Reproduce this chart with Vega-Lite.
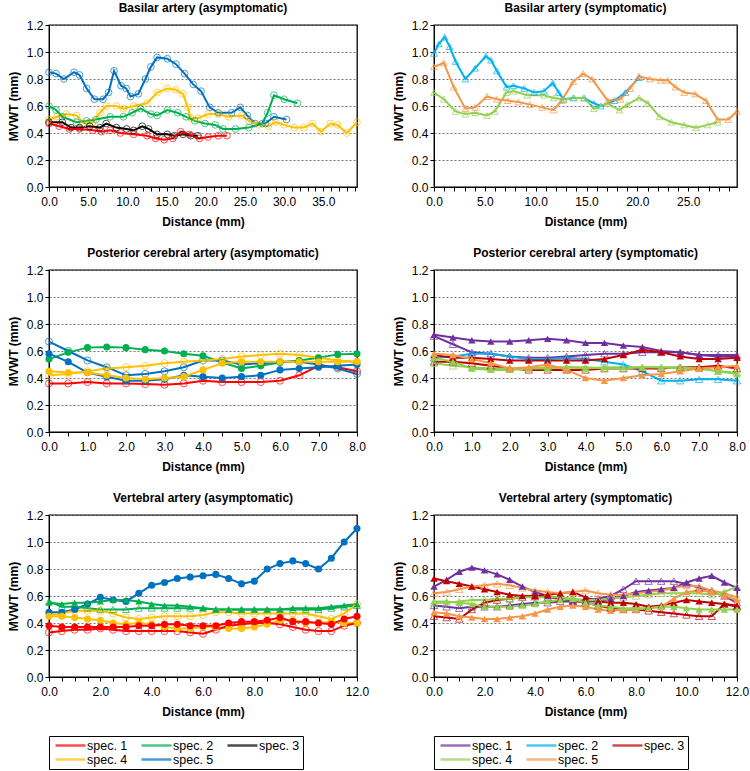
{
"$schema": "https://vega.github.io/schema/vega-lite/v6.json",
"padding": {"left": 6, "top": 1, "right": 0, "bottom": 0},
"background": "white",
"config": {
 "font": "Liberation Sans",
 "view": {"stroke": "#000", "strokeWidth": 1.3},
 "title": {"font": "Liberation Sans", "fontSize": 12, "fontWeight": "bold", "color": "#000", "offset": 4},
 "axis": {"labelFont": "Liberation Sans", "labelFontSize": 12, "labelColor": "#000", "titleFont": "Liberation Sans", "titleFontSize": 12, "titleFontWeight": "bold", "titleColor": "#000", "domainColor": "#000", "tickColor": "#000", "tickSize": 4, "labelFlush": false, "labelOverlap": false, "gridColor": "#777", "gridDash": [2, 2]},
 "axisX": {"grid": false, "labelPadding": 5, "titlePadding": 9},
 "axisY": {"grid": true, "titlePadding": 6},
 "legend": {"orient": "bottom", "direction": "horizontal", "columns": 3, "symbolType": "M-0.6,0H5.4", "symbolSize": 100, "symbolStrokeWidth": 2.5, "symbolOffset": 0, "labelOffset": 22, "labelFont": "Liberation Sans", "labelFontSize": 12.5, "labelColor": "#000", "strokeColor": "#000", "padding": 3, "columnPadding": 8, "rowPadding": 1, "offset": 18}
},
"datasets": {
 "ba": [
  {"s":5,"f":0,"x":0,"y":0.85},{"s":5,"f":0,"x":0.9,"y":0.84},{"s":5,"f":0,"x":1.9,"y":0.80},{"s":5,"f":0,"x":3.2,"y":0.85},{"s":5,"f":0,"x":3.9,"y":0.83},{"s":5,"f":0,"x":4.8,"y":0.73},{"s":5,"f":0,"x":5.8,"y":0.65},{"s":5,"f":0,"x":6.9,"y":0.65},{"s":5,"f":0,"x":7.6,"y":0.70},{"s":5,"f":0,"x":8.3,"y":0.86},{"s":5,"f":0,"x":9.2,"y":0.75},{"s":5,"f":0,"x":9.85,"y":0.73},{"s":5,"f":0,"x":10.4,"y":0.67},{"s":5,"f":0,"x":11.4,"y":0.69},{"s":5,"f":0,"x":12.3,"y":0.80},{"s":5,"f":0,"x":13,"y":0.89},{"s":5,"f":0,"x":13.8,"y":0.96},{"s":5,"f":0,"x":15.1,"y":0.95},{"s":5,"f":0,"x":16.2,"y":0.91},{"s":5,"f":0,"x":17.3,"y":0.84},{"s":5,"f":0,"x":18.4,"y":0.76},{"s":5,"f":0,"x":19.4,"y":0.71},{"s":5,"f":0,"x":20.5,"y":0.59},{"s":5,"f":0,"x":21.6,"y":0.55},{"s":5,"f":0,"x":23.3,"y":0.55},{"s":5,"f":0,"x":24.4,"y":0.59},{"s":5,"f":0,"x":25.3,"y":0.53},{"s":5,"f":0,"x":26.3,"y":0.47},{"s":5,"f":0,"x":27.6,"y":0.47},{"s":5,"f":0,"x":28.7,"y":0.52},{"s":5,"f":0,"x":30.3,"y":0.50},
  {"s":4,"f":0,"x":0,"y":0.50},{"s":4,"f":0,"x":1,"y":0.52},{"s":4,"f":0,"x":2.2,"y":0.54},{"s":4,"f":0,"x":3.5,"y":0.53},{"s":4,"f":0,"x":4.5,"y":0.47},{"s":4,"f":0,"x":5.6,"y":0.48},{"s":4,"f":0,"x":6.5,"y":0.55},{"s":4,"f":0,"x":7.3,"y":0.60},{"s":4,"f":0,"x":8.6,"y":0.60},{"s":4,"f":0,"x":9.5,"y":0.58},{"s":4,"f":0,"x":10.8,"y":0.60},{"s":4,"f":0,"x":12.5,"y":0.62},{"s":4,"f":0,"x":13.8,"y":0.70},{"s":4,"f":0,"x":15.1,"y":0.73},{"s":4,"f":0,"x":16.2,"y":0.72},{"s":4,"f":0,"x":17.1,"y":0.69},{"s":4,"f":0,"x":17.7,"y":0.59},{"s":4,"f":0,"x":18.1,"y":0.51},{"s":4,"f":0,"x":19,"y":0.51},{"s":4,"f":0,"x":20.3,"y":0.54},{"s":4,"f":0,"x":21.6,"y":0.54},{"s":4,"f":0,"x":22.9,"y":0.52},{"s":4,"f":0,"x":24.6,"y":0.53},{"s":4,"f":0,"x":25.5,"y":0.49},{"s":4,"f":0,"x":26.8,"y":0.46},{"s":4,"f":0,"x":28,"y":0.45},{"s":4,"f":0,"x":28.9,"y":0.48},{"s":4,"f":0,"x":30,"y":0.46},{"s":4,"f":0,"x":31.3,"y":0.44},{"s":4,"f":0,"x":32.5,"y":0.44},{"s":4,"f":0,"x":33.6,"y":0.47},{"s":4,"f":0,"x":34.7,"y":0.41},{"s":4,"f":0,"x":35.9,"y":0.47},{"s":4,"f":0,"x":36.8,"y":0.46},{"s":4,"f":0,"x":38,"y":0.40},{"s":4,"f":0,"x":39.3,"y":0.48},
  {"s":2,"f":0,"x":0,"y":0.60},{"s":2,"f":0,"x":0.9,"y":0.57},{"s":2,"f":0,"x":1.7,"y":0.52},{"s":2,"f":0,"x":3.5,"y":0.48},{"s":2,"f":0,"x":4.8,"y":0.49},{"s":2,"f":0,"x":6,"y":0.50},{"s":2,"f":0,"x":7.8,"y":0.52},{"s":2,"f":0,"x":9.5,"y":0.52},{"s":2,"f":0,"x":10.6,"y":0.55},{"s":2,"f":0,"x":11.7,"y":0.58},{"s":2,"f":0,"x":13,"y":0.54},{"s":2,"f":0,"x":13.8,"y":0.53},{"s":2,"f":0,"x":15.1,"y":0.57},{"s":2,"f":0,"x":16.4,"y":0.55},{"s":2,"f":0,"x":17.5,"y":0.52},{"s":2,"f":0,"x":18.6,"y":0.49},{"s":2,"f":0,"x":19.9,"y":0.47},{"s":2,"f":0,"x":21.2,"y":0.46},{"s":2,"f":0,"x":22.2,"y":0.43},{"s":2,"f":0,"x":23.8,"y":0.43},{"s":2,"f":0,"x":25.5,"y":0.44},{"s":2,"f":0,"x":27.2,"y":0.47},{"s":2,"f":0,"x":27.9,"y":0.55},{"s":2,"f":0,"x":28.7,"y":0.68},{"s":2,"f":0,"x":30,"y":0.65},{"s":2,"f":0,"x":31.7,"y":0.62},
  {"s":3,"f":0,"x":0,"y":0.48},{"s":3,"f":0,"x":1.7,"y":0.48},{"s":3,"f":0,"x":2.8,"y":0.44},{"s":3,"f":0,"x":3.9,"y":0.44},{"s":3,"f":0,"x":5.2,"y":0.45},{"s":3,"f":0,"x":6.5,"y":0.44},{"s":3,"f":0,"x":7.3,"y":0.47},{"s":3,"f":0,"x":8.6,"y":0.44},{"s":3,"f":0,"x":9.9,"y":0.43},{"s":3,"f":0,"x":10.8,"y":0.42},{"s":3,"f":0,"x":11.9,"y":0.45},{"s":3,"f":0,"x":12.7,"y":0.43},{"s":3,"f":0,"x":13.8,"y":0.39},{"s":3,"f":0,"x":15.1,"y":0.39},{"s":3,"f":0,"x":16,"y":0.38},{"s":3,"f":0,"x":17.1,"y":0.39},{"s":3,"f":0,"x":18.1,"y":0.38},{"s":3,"f":0,"x":19,"y":0.38},
  {"s":1,"f":0,"x":0,"y":0.47},{"s":1,"f":0,"x":1.3,"y":0.45},{"s":1,"f":0,"x":2.6,"y":0.43},{"s":1,"f":0,"x":3.9,"y":0.43},{"s":1,"f":0,"x":5.6,"y":0.42},{"s":1,"f":0,"x":6.7,"y":0.41},{"s":1,"f":0,"x":7.8,"y":0.42},{"s":1,"f":0,"x":9.1,"y":0.40},{"s":1,"f":0,"x":10.8,"y":0.39},{"s":1,"f":0,"x":12.5,"y":0.38},{"s":1,"f":0,"x":13.6,"y":0.36},{"s":1,"f":0,"x":14.7,"y":0.35},{"s":1,"f":0,"x":15.8,"y":0.36},{"s":1,"f":0,"x":16.8,"y":0.41},{"s":1,"f":0,"x":17.9,"y":0.39},{"s":1,"f":0,"x":19.2,"y":0.36},{"s":1,"f":0,"x":20.3,"y":0.37},{"s":1,"f":0,"x":21.6,"y":0.38},{"s":1,"f":0,"x":22.7,"y":0.38}
 ],
 "bs": [
  {"s":2,"f":0,"x":0,"y":0.99},{"s":2,"f":0,"x":0.48,"y":1.06},{"s":2,"f":0,"x":1.06,"y":1.11},{"s":2,"f":0,"x":1.54,"y":1.04},{"s":2,"f":0,"x":2.12,"y":0.93},{"s":2,"f":0,"x":3.09,"y":0.80},{"s":2,"f":0,"x":4.05,"y":0.88},{"s":2,"f":0,"x":5.11,"y":0.97},{"s":2,"f":0,"x":5.6,"y":0.94},{"s":2,"f":0,"x":6.18,"y":0.86},{"s":2,"f":0,"x":7.14,"y":0.74},{"s":2,"f":0,"x":7.82,"y":0.75},{"s":2,"f":0,"x":8.88,"y":0.73},{"s":2,"f":0,"x":9.84,"y":0.70},{"s":2,"f":0,"x":10.81,"y":0.71},{"s":2,"f":0,"x":11.68,"y":0.77},{"s":2,"f":0,"x":12.26,"y":0.70},{"s":2,"f":0,"x":12.74,"y":0.65},{"s":2,"f":0,"x":13.7,"y":0.66},{"s":2,"f":0,"x":14.76,"y":0.66},{"s":2,"f":0,"x":15.73,"y":0.62},{"s":2,"f":0,"x":16.4,"y":0.60},{"s":2,"f":0,"x":17.76,"y":0.64},{"s":2,"f":0,"x":18.82,"y":0.70},{"s":2,"f":0,"x":20.17,"y":0.81},
  {"s":4,"f":0,"x":0,"y":0.70},{"s":4,"f":0,"x":0.97,"y":0.65},{"s":4,"f":0,"x":2.12,"y":0.56},{"s":4,"f":0,"x":3.09,"y":0.54},{"s":4,"f":0,"x":4.05,"y":0.55},{"s":4,"f":0,"x":5.21,"y":0.53},{"s":4,"f":0,"x":5.98,"y":0.56},{"s":4,"f":0,"x":7.14,"y":0.70},{"s":4,"f":0,"x":7.82,"y":0.71},{"s":4,"f":0,"x":9.17,"y":0.68},{"s":4,"f":0,"x":10.81,"y":0.68},{"s":4,"f":0,"x":11.77,"y":0.66},{"s":4,"f":0,"x":12.74,"y":0.65},{"s":4,"f":0,"x":13.8,"y":0.66},{"s":4,"f":0,"x":14.76,"y":0.66},{"s":4,"f":0,"x":15.73,"y":0.58},{"s":4,"f":0,"x":17.08,"y":0.62},{"s":4,"f":0,"x":18.24,"y":0.57},{"s":4,"f":0,"x":19.01,"y":0.61},{"s":4,"f":0,"x":20.17,"y":0.66},{"s":4,"f":0,"x":21.04,"y":0.62},{"s":4,"f":0,"x":22.2,"y":0.52},{"s":4,"f":0,"x":23.35,"y":0.48},{"s":4,"f":0,"x":24.61,"y":0.46},{"s":4,"f":0,"x":25.77,"y":0.44},{"s":4,"f":0,"x":26.92,"y":0.46},{"s":4,"f":0,"x":27.89,"y":0.48},
  {"s":5,"f":0,"x":0,"y":0.89},{"s":5,"f":0,"x":0.97,"y":0.92},{"s":5,"f":0,"x":1.93,"y":0.74},{"s":5,"f":0,"x":3.09,"y":0.58},{"s":5,"f":0,"x":4.05,"y":0.59},{"s":5,"f":0,"x":5.21,"y":0.67},{"s":5,"f":0,"x":6.18,"y":0.65},{"s":5,"f":0,"x":7.24,"y":0.64},{"s":5,"f":0,"x":8.3,"y":0.63},{"s":5,"f":0,"x":9.46,"y":0.61},{"s":5,"f":0,"x":10.62,"y":0.59},{"s":5,"f":0,"x":11.77,"y":0.57},{"s":5,"f":0,"x":12.55,"y":0.64},{"s":5,"f":0,"x":13.7,"y":0.78},{"s":5,"f":0,"x":14.67,"y":0.84},{"s":5,"f":0,"x":15.54,"y":0.80},{"s":5,"f":0,"x":17.08,"y":0.64},{"s":5,"f":0,"x":18.34,"y":0.65},{"s":5,"f":0,"x":19.3,"y":0.73},{"s":5,"f":0,"x":20.17,"y":0.82},{"s":5,"f":0,"x":21.23,"y":0.80},{"s":5,"f":0,"x":22.29,"y":0.79},{"s":5,"f":0,"x":22.97,"y":0.79},{"s":5,"f":0,"x":23.74,"y":0.74},{"s":5,"f":0,"x":24.61,"y":0.70},{"s":5,"f":0,"x":25.67,"y":0.69},{"s":5,"f":0,"x":26.73,"y":0.64},{"s":5,"f":0,"x":27.89,"y":0.50},{"s":5,"f":0,"x":28.95,"y":0.50},{"s":5,"f":0,"x":29.8,"y":0.56}
 ],
 "pa": [
  {"s":1,"f":0,"x":0,"y":0.36},{"s":1,"f":0,"x":0.5,"y":0.36},{"s":1,"f":0,"x":1,"y":0.37},{"s":1,"f":0,"x":1.5,"y":0.36},{"s":1,"f":0,"x":2,"y":0.36},{"s":1,"f":0,"x":2.5,"y":0.355},{"s":1,"f":0,"x":3,"y":0.35},{"s":1,"f":0,"x":3.5,"y":0.36},{"s":1,"f":0,"x":4,"y":0.38},{"s":1,"f":0,"x":4.5,"y":0.37},{"s":1,"f":0,"x":5,"y":0.37},{"s":1,"f":0,"x":5.5,"y":0.37},{"s":1,"f":0,"x":6,"y":0.38},{"s":1,"f":0,"x":6.5,"y":0.42},{"s":1,"f":0,"x":7,"y":0.49},{"s":1,"f":0,"x":7.5,"y":0.48},{"s":1,"f":0,"x":8,"y":0.45},
  {"s":2,"f":1,"x":0,"y":0.54},{"s":2,"f":1,"x":0.5,"y":0.59},{"s":2,"f":1,"x":1,"y":0.625},{"s":2,"f":1,"x":1.5,"y":0.63},{"s":2,"f":1,"x":2,"y":0.625},{"s":2,"f":1,"x":2.5,"y":0.61},{"s":2,"f":1,"x":3,"y":0.60},{"s":2,"f":1,"x":3.5,"y":0.58},{"s":2,"f":1,"x":4,"y":0.565},{"s":2,"f":1,"x":4.5,"y":0.515},{"s":2,"f":1,"x":5,"y":0.47},{"s":2,"f":1,"x":5.5,"y":0.49},{"s":2,"f":1,"x":6,"y":0.515},{"s":2,"f":1,"x":6.5,"y":0.53},{"s":2,"f":1,"x":7,"y":0.55},{"s":2,"f":1,"x":7.5,"y":0.575},{"s":2,"f":1,"x":8,"y":0.58},
  {"s":5,"f":0,"x":0,"y":0.67},{"s":5,"f":0,"x":0.5,"y":0.60},{"s":5,"f":0,"x":1,"y":0.53},{"s":5,"f":0,"x":1.5,"y":0.48},{"s":5,"f":0,"x":2,"y":0.42},{"s":5,"f":0,"x":2.5,"y":0.43},{"s":5,"f":0,"x":3,"y":0.45},{"s":5,"f":0,"x":3.5,"y":0.48},{"s":5,"f":0,"x":4,"y":0.53},{"s":5,"f":0,"x":4.5,"y":0.53},{"s":5,"f":0,"x":5,"y":0.50},{"s":5,"f":0,"x":5.5,"y":0.51},{"s":5,"f":0,"x":6,"y":0.52},{"s":5,"f":0,"x":6.5,"y":0.52},{"s":5,"f":0,"x":7,"y":0.50},{"s":5,"f":0,"x":7.5,"y":0.47},{"s":5,"f":0,"x":8,"y":0.43},
  {"s":5,"f":1,"x":0,"y":0.58},{"s":5,"f":1,"x":0.5,"y":0.52},{"s":5,"f":1,"x":1,"y":0.44},{"s":5,"f":1,"x":1.5,"y":0.41},{"s":5,"f":1,"x":2,"y":0.38},{"s":5,"f":1,"x":2.5,"y":0.38},{"s":5,"f":1,"x":3,"y":0.39},{"s":5,"f":1,"x":3.5,"y":0.42},{"s":5,"f":1,"x":4,"y":0.41},{"s":5,"f":1,"x":4.5,"y":0.40},{"s":5,"f":1,"x":5,"y":0.41},{"s":5,"f":1,"x":5.5,"y":0.42},{"s":5,"f":1,"x":6,"y":0.46},{"s":5,"f":1,"x":6.5,"y":0.47},{"s":5,"f":1,"x":7,"y":0.48},{"s":5,"f":1,"x":7.5,"y":0.49},{"s":5,"f":1,"x":8,"y":0.50},
  {"s":4,"f":0,"x":0,"y":0.42},{"s":4,"f":0,"x":0.5,"y":0.43},{"s":4,"f":0,"x":1,"y":0.45},{"s":4,"f":0,"x":1.5,"y":0.47},{"s":4,"f":0,"x":2,"y":0.48},{"s":4,"f":0,"x":2.5,"y":0.49},{"s":4,"f":0,"x":3,"y":0.51},{"s":4,"f":0,"x":3.5,"y":0.52},{"s":4,"f":0,"x":4,"y":0.53},{"s":4,"f":0,"x":4.5,"y":0.54},{"s":4,"f":0,"x":5,"y":0.56},{"s":4,"f":0,"x":5.5,"y":0.57},{"s":4,"f":0,"x":6,"y":0.58},{"s":4,"f":0,"x":6.5,"y":0.57},{"s":4,"f":0,"x":7,"y":0.55},{"s":4,"f":0,"x":7.5,"y":0.53},{"s":4,"f":0,"x":8,"y":0.52},
  {"s":4,"f":1,"x":0,"y":0.45},{"s":4,"f":1,"x":0.5,"y":0.44},{"s":4,"f":1,"x":1,"y":0.44},{"s":4,"f":1,"x":1.5,"y":0.42},{"s":4,"f":1,"x":2,"y":0.40},{"s":4,"f":1,"x":2.5,"y":0.39},{"s":4,"f":1,"x":3,"y":0.40},{"s":4,"f":1,"x":3.5,"y":0.41},{"s":4,"f":1,"x":4,"y":0.46},{"s":4,"f":1,"x":4.5,"y":0.51},{"s":4,"f":1,"x":5,"y":0.52},{"s":4,"f":1,"x":5.5,"y":0.52},{"s":4,"f":1,"x":6,"y":0.52},{"s":4,"f":1,"x":6.5,"y":0.52},{"s":4,"f":1,"x":7,"y":0.52},{"s":4,"f":1,"x":7.5,"y":0.52},{"s":4,"f":1,"x":8,"y":0.52}
 ],
 "ps": [
  {"s":1,"f":1,"x":0,"y":0.72},{"s":1,"f":1,"x":0.5,"y":0.70},{"s":1,"f":1,"x":1,"y":0.68},{"s":1,"f":1,"x":1.5,"y":0.67},{"s":1,"f":1,"x":2,"y":0.67},{"s":1,"f":1,"x":2.5,"y":0.68},{"s":1,"f":1,"x":3,"y":0.69},{"s":1,"f":1,"x":3.5,"y":0.68},{"s":1,"f":1,"x":4,"y":0.66},{"s":1,"f":1,"x":4.5,"y":0.66},{"s":1,"f":1,"x":5,"y":0.64},{"s":1,"f":1,"x":5.5,"y":0.63},{"s":1,"f":1,"x":6,"y":0.60},{"s":1,"f":1,"x":6.5,"y":0.59},{"s":1,"f":1,"x":7,"y":0.57},{"s":1,"f":1,"x":7.5,"y":0.56},{"s":1,"f":1,"x":8,"y":0.56},
  {"s":1,"f":0,"x":0,"y":0.71},{"s":1,"f":0,"x":0.5,"y":0.65},{"s":1,"f":0,"x":1,"y":0.59},{"s":1,"f":0,"x":1.5,"y":0.58},{"s":1,"f":0,"x":2,"y":0.56},{"s":1,"f":0,"x":2.5,"y":0.55},{"s":1,"f":0,"x":3,"y":0.55},{"s":1,"f":0,"x":3.5,"y":0.56},{"s":1,"f":0,"x":4,"y":0.57},{"s":1,"f":0,"x":4.5,"y":0.58},{"s":1,"f":0,"x":5,"y":0.58},{"s":1,"f":0,"x":5.5,"y":0.59},{"s":1,"f":0,"x":6,"y":0.59},{"s":1,"f":0,"x":6.5,"y":0.59},{"s":1,"f":0,"x":7,"y":0.57},{"s":1,"f":0,"x":7.5,"y":0.57},{"s":1,"f":0,"x":8,"y":0.57},
  {"s":2,"f":0,"x":0,"y":0.55},{"s":2,"f":0,"x":0.5,"y":0.56},{"s":2,"f":0,"x":1,"y":0.58},{"s":2,"f":0,"x":1.5,"y":0.58},{"s":2,"f":0,"x":2,"y":0.56},{"s":2,"f":0,"x":2.5,"y":0.54},{"s":2,"f":0,"x":3,"y":0.54},{"s":2,"f":0,"x":3.5,"y":0.55},{"s":2,"f":0,"x":4,"y":0.54},{"s":2,"f":0,"x":4.5,"y":0.52},{"s":2,"f":0,"x":5,"y":0.50},{"s":2,"f":0,"x":5.5,"y":0.45},{"s":2,"f":0,"x":6,"y":0.38},{"s":2,"f":0,"x":6.5,"y":0.38},{"s":2,"f":0,"x":7,"y":0.39},{"s":2,"f":0,"x":7.5,"y":0.39},{"s":2,"f":0,"x":8,"y":0.38},
  {"s":3,"f":1,"x":0,"y":0.57},{"s":3,"f":1,"x":0.5,"y":0.55},{"s":3,"f":1,"x":1,"y":0.55},{"s":3,"f":1,"x":1.5,"y":0.54},{"s":3,"f":1,"x":2,"y":0.53},{"s":3,"f":1,"x":2.5,"y":0.53},{"s":3,"f":1,"x":3,"y":0.53},{"s":3,"f":1,"x":3.5,"y":0.53},{"s":3,"f":1,"x":4,"y":0.53},{"s":3,"f":1,"x":4.5,"y":0.54},{"s":3,"f":1,"x":5,"y":0.57},{"s":3,"f":1,"x":5.5,"y":0.61},{"s":3,"f":1,"x":6,"y":0.59},{"s":3,"f":1,"x":6.5,"y":0.56},{"s":3,"f":1,"x":7,"y":0.54},{"s":3,"f":1,"x":7.5,"y":0.54},{"s":3,"f":1,"x":8,"y":0.55},
  {"s":3,"f":0,"x":0,"y":0.52},{"s":3,"f":0,"x":0.5,"y":0.52},{"s":3,"f":0,"x":1,"y":0.51},{"s":3,"f":0,"x":1.5,"y":0.49},{"s":3,"f":0,"x":2,"y":0.47},{"s":3,"f":0,"x":2.5,"y":0.46},{"s":3,"f":0,"x":3,"y":0.46},{"s":3,"f":0,"x":3.5,"y":0.46},{"s":3,"f":0,"x":4,"y":0.46},{"s":3,"f":0,"x":4.5,"y":0.47},{"s":3,"f":0,"x":5,"y":0.47},{"s":3,"f":0,"x":5.5,"y":0.47},{"s":3,"f":0,"x":6,"y":0.47},{"s":3,"f":0,"x":6.5,"y":0.48},{"s":3,"f":0,"x":7,"y":0.48},{"s":3,"f":0,"x":7.5,"y":0.49},{"s":3,"f":0,"x":8,"y":0.47},
  {"s":4,"f":1,"x":0,"y":0.55},{"s":4,"f":1,"x":0.5,"y":0.52},{"s":4,"f":1,"x":1,"y":0.47},{"s":4,"f":1,"x":1.5,"y":0.46},{"s":4,"f":1,"x":2,"y":0.46},{"s":4,"f":1,"x":2.5,"y":0.47},{"s":4,"f":1,"x":3,"y":0.47},{"s":4,"f":1,"x":3.5,"y":0.48},{"s":4,"f":1,"x":4,"y":0.47},{"s":4,"f":1,"x":4.5,"y":0.48},{"s":4,"f":1,"x":5,"y":0.48},{"s":4,"f":1,"x":5.5,"y":0.48},{"s":4,"f":1,"x":6,"y":0.48},{"s":4,"f":1,"x":6.5,"y":0.48},{"s":4,"f":1,"x":7,"y":0.47},{"s":4,"f":1,"x":7.5,"y":0.45},{"s":4,"f":1,"x":8,"y":0.43},
  {"s":4,"f":0,"x":0,"y":0.51},{"s":4,"f":0,"x":0.5,"y":0.49},{"s":4,"f":0,"x":1,"y":0.48},{"s":4,"f":0,"x":1.5,"y":0.47},{"s":4,"f":0,"x":2,"y":0.47},{"s":4,"f":0,"x":2.5,"y":0.47},{"s":4,"f":0,"x":3,"y":0.48},{"s":4,"f":0,"x":3.5,"y":0.48},{"s":4,"f":0,"x":4,"y":0.48},{"s":4,"f":0,"x":4.5,"y":0.47},{"s":4,"f":0,"x":5,"y":0.47},{"s":4,"f":0,"x":5.5,"y":0.48},{"s":4,"f":0,"x":6,"y":0.48},{"s":4,"f":0,"x":6.5,"y":0.47},{"s":4,"f":0,"x":7,"y":0.47},{"s":4,"f":0,"x":7.5,"y":0.45},{"s":4,"f":0,"x":8,"y":0.44},
  {"s":5,"f":1,"x":0,"y":0.58},{"s":5,"f":1,"x":0.5,"y":0.57},{"s":5,"f":1,"x":1,"y":0.54},{"s":5,"f":1,"x":1.5,"y":0.51},{"s":5,"f":1,"x":2,"y":0.47},{"s":5,"f":1,"x":2.5,"y":0.48},{"s":5,"f":1,"x":3,"y":0.50},{"s":5,"f":1,"x":3.5,"y":0.46},{"s":5,"f":1,"x":4,"y":0.40},{"s":5,"f":1,"x":4.5,"y":0.38},{"s":5,"f":1,"x":5,"y":0.40},{"s":5,"f":1,"x":5.5,"y":0.42},{"s":5,"f":1,"x":6,"y":0.43},{"s":5,"f":1,"x":6.5,"y":0.45},{"s":5,"f":1,"x":7,"y":0.47},{"s":5,"f":1,"x":7.5,"y":0.48},{"s":5,"f":1,"x":8,"y":0.49}
 ],
 "va": [
  {"s":5,"f":1,"x":0,"y":0.48},{"s":5,"f":1,"x":0.5,"y":0.48},{"s":5,"f":1,"x":1,"y":0.50},{"s":5,"f":1,"x":1.5,"y":0.54},{"s":5,"f":1,"x":2,"y":0.59},{"s":5,"f":1,"x":2.5,"y":0.57},{"s":5,"f":1,"x":3,"y":0.56},{"s":5,"f":1,"x":3.5,"y":0.62},{"s":5,"f":1,"x":4,"y":0.68},{"s":5,"f":1,"x":4.5,"y":0.70},{"s":5,"f":1,"x":5,"y":0.73},{"s":5,"f":1,"x":5.5,"y":0.74},{"s":5,"f":1,"x":6,"y":0.75},{"s":5,"f":1,"x":6.5,"y":0.76},{"s":5,"f":1,"x":7,"y":0.73},{"s":5,"f":1,"x":7.5,"y":0.69},{"s":5,"f":1,"x":8,"y":0.71},{"s":5,"f":1,"x":8.5,"y":0.80},{"s":5,"f":1,"x":9,"y":0.84},{"s":5,"f":1,"x":9.5,"y":0.86},{"s":5,"f":1,"x":10,"y":0.84},{"s":5,"f":1,"x":10.5,"y":0.80},{"s":5,"f":1,"x":11,"y":0.88},{"s":5,"f":1,"x":11.5,"y":1.00},{"s":5,"f":1,"x":12,"y":1.10},
  {"s":2,"f":1,"x":0,"y":0.55},{"s":2,"f":1,"x":0.5,"y":0.54},{"s":2,"f":1,"x":1,"y":0.55},{"s":2,"f":1,"x":1.5,"y":0.55},{"s":2,"f":1,"x":2,"y":0.56},{"s":2,"f":1,"x":2.5,"y":0.57},{"s":2,"f":1,"x":3,"y":0.57},{"s":2,"f":1,"x":3.5,"y":0.56},{"s":2,"f":1,"x":4,"y":0.54},{"s":2,"f":1,"x":4.5,"y":0.53},{"s":2,"f":1,"x":5,"y":0.53},{"s":2,"f":1,"x":5.5,"y":0.52},{"s":2,"f":1,"x":6,"y":0.51},{"s":2,"f":1,"x":6.5,"y":0.50},{"s":2,"f":1,"x":7,"y":0.50},{"s":2,"f":1,"x":7.5,"y":0.50},{"s":2,"f":1,"x":8,"y":0.50},{"s":2,"f":1,"x":8.5,"y":0.50},{"s":2,"f":1,"x":9,"y":0.50},{"s":2,"f":1,"x":9.5,"y":0.51},{"s":2,"f":1,"x":10,"y":0.51},{"s":2,"f":1,"x":10.5,"y":0.51},{"s":2,"f":1,"x":11,"y":0.52},{"s":2,"f":1,"x":11.5,"y":0.53},{"s":2,"f":1,"x":12,"y":0.54},
  {"s":2,"f":0,"x":0,"y":0.56},{"s":2,"f":0,"x":0.5,"y":0.52},{"s":2,"f":0,"x":1,"y":0.52},{"s":2,"f":0,"x":1.5,"y":0.51},{"s":2,"f":0,"x":2,"y":0.50},{"s":2,"f":0,"x":2.5,"y":0.50},{"s":2,"f":0,"x":3,"y":0.50},{"s":2,"f":0,"x":3.5,"y":0.51},{"s":2,"f":0,"x":4,"y":0.51},{"s":2,"f":0,"x":4.5,"y":0.51},{"s":2,"f":0,"x":5,"y":0.51},{"s":2,"f":0,"x":5.5,"y":0.51},{"s":2,"f":0,"x":6,"y":0.51},{"s":2,"f":0,"x":6.5,"y":0.50},{"s":2,"f":0,"x":7,"y":0.50},{"s":2,"f":0,"x":7.5,"y":0.50},{"s":2,"f":0,"x":8,"y":0.50},{"s":2,"f":0,"x":8.5,"y":0.50},{"s":2,"f":0,"x":9,"y":0.50},{"s":2,"f":0,"x":9.5,"y":0.50},{"s":2,"f":0,"x":10,"y":0.50},{"s":2,"f":0,"x":10.5,"y":0.50},{"s":2,"f":0,"x":11,"y":0.51},{"s":2,"f":0,"x":11.5,"y":0.52},{"s":2,"f":0,"x":12,"y":0.53},
  {"s":4,"f":0,"x":0,"y":0.46},{"s":4,"f":0,"x":0.5,"y":0.47},{"s":4,"f":0,"x":1,"y":0.49},{"s":4,"f":0,"x":1.5,"y":0.49},{"s":4,"f":0,"x":2,"y":0.49},{"s":4,"f":0,"x":2.5,"y":0.47},{"s":4,"f":0,"x":3,"y":0.44},{"s":4,"f":0,"x":3.5,"y":0.43},{"s":4,"f":0,"x":4,"y":0.44},{"s":4,"f":0,"x":4.5,"y":0.45},{"s":4,"f":0,"x":5,"y":0.45},{"s":4,"f":0,"x":5.5,"y":0.45},{"s":4,"f":0,"x":6,"y":0.46},{"s":4,"f":0,"x":6.5,"y":0.48},{"s":4,"f":0,"x":7,"y":0.48},{"s":4,"f":0,"x":7.5,"y":0.47},{"s":4,"f":0,"x":8,"y":0.47},{"s":4,"f":0,"x":8.5,"y":0.47},{"s":4,"f":0,"x":9,"y":0.47},{"s":4,"f":0,"x":9.5,"y":0.47},{"s":4,"f":0,"x":10,"y":0.47},{"s":4,"f":0,"x":10.5,"y":0.45},{"s":4,"f":0,"x":11,"y":0.43},{"s":4,"f":0,"x":11.5,"y":0.47},{"s":4,"f":0,"x":12,"y":0.54},
  {"s":4,"f":1,"x":0,"y":0.45},{"s":4,"f":1,"x":0.5,"y":0.45},{"s":4,"f":1,"x":1,"y":0.44},{"s":4,"f":1,"x":1.5,"y":0.43},{"s":4,"f":1,"x":2,"y":0.42},{"s":4,"f":1,"x":2.5,"y":0.40},{"s":4,"f":1,"x":3,"y":0.39},{"s":4,"f":1,"x":3.5,"y":0.40},{"s":4,"f":1,"x":4,"y":0.39},{"s":4,"f":1,"x":4.5,"y":0.37},{"s":4,"f":1,"x":5,"y":0.36},{"s":4,"f":1,"x":5.5,"y":0.36},{"s":4,"f":1,"x":6,"y":0.37},{"s":4,"f":1,"x":6.5,"y":0.37},{"s":4,"f":1,"x":7,"y":0.36},{"s":4,"f":1,"x":7.5,"y":0.36},{"s":4,"f":1,"x":8,"y":0.37},{"s":4,"f":1,"x":8.5,"y":0.39},{"s":4,"f":1,"x":9,"y":0.42},{"s":4,"f":1,"x":9.5,"y":0.42},{"s":4,"f":1,"x":10,"y":0.40},{"s":4,"f":1,"x":10.5,"y":0.40},{"s":4,"f":1,"x":11,"y":0.41},{"s":4,"f":1,"x":11.5,"y":0.40},{"s":4,"f":1,"x":12,"y":0.40},
  {"s":1,"f":1,"x":0,"y":0.38},{"s":1,"f":1,"x":0.5,"y":0.37},{"s":1,"f":1,"x":1,"y":0.37},{"s":1,"f":1,"x":1.5,"y":0.37},{"s":1,"f":1,"x":2,"y":0.37},{"s":1,"f":1,"x":2.5,"y":0.37},{"s":1,"f":1,"x":3,"y":0.37},{"s":1,"f":1,"x":3.5,"y":0.38},{"s":1,"f":1,"x":4,"y":0.38},{"s":1,"f":1,"x":4.5,"y":0.39},{"s":1,"f":1,"x":5,"y":0.39},{"s":1,"f":1,"x":5.5,"y":0.38},{"s":1,"f":1,"x":6,"y":0.38},{"s":1,"f":1,"x":6.5,"y":0.38},{"s":1,"f":1,"x":7,"y":0.40},{"s":1,"f":1,"x":7.5,"y":0.41},{"s":1,"f":1,"x":8,"y":0.41},{"s":1,"f":1,"x":8.5,"y":0.42},{"s":1,"f":1,"x":9,"y":0.44},{"s":1,"f":1,"x":9.5,"y":0.41},{"s":1,"f":1,"x":10,"y":0.41},{"s":1,"f":1,"x":10.5,"y":0.40},{"s":1,"f":1,"x":11,"y":0.39},{"s":1,"f":1,"x":11.5,"y":0.43},{"s":1,"f":1,"x":12,"y":0.45},
  {"s":1,"f":0,"x":0,"y":0.33},{"s":1,"f":0,"x":0.5,"y":0.34},{"s":1,"f":0,"x":1,"y":0.35},{"s":1,"f":0,"x":1.5,"y":0.35},{"s":1,"f":0,"x":2,"y":0.36},{"s":1,"f":0,"x":2.5,"y":0.35},{"s":1,"f":0,"x":3,"y":0.34},{"s":1,"f":0,"x":3.5,"y":0.34},{"s":1,"f":0,"x":4,"y":0.34},{"s":1,"f":0,"x":4.5,"y":0.34},{"s":1,"f":0,"x":5,"y":0.34},{"s":1,"f":0,"x":5.5,"y":0.33},{"s":1,"f":0,"x":6,"y":0.32},{"s":1,"f":0,"x":6.5,"y":0.35},{"s":1,"f":0,"x":7,"y":0.38},{"s":1,"f":0,"x":7.5,"y":0.39},{"s":1,"f":0,"x":8,"y":0.40},{"s":1,"f":0,"x":8.5,"y":0.40},{"s":1,"f":0,"x":9,"y":0.39},{"s":1,"f":0,"x":9.5,"y":0.37},{"s":1,"f":0,"x":10,"y":0.35},{"s":1,"f":0,"x":10.5,"y":0.34},{"s":1,"f":0,"x":11,"y":0.34},{"s":1,"f":0,"x":11.5,"y":0.38},{"s":1,"f":0,"x":12,"y":0.40}
 ],
 "vs": [
  {"s":1,"f":1,"x":0,"y":0.67},{"s":1,"f":1,"x":0.5,"y":0.72},{"s":1,"f":1,"x":1,"y":0.78},{"s":1,"f":1,"x":1.5,"y":0.81},{"s":1,"f":1,"x":2,"y":0.79},{"s":1,"f":1,"x":2.5,"y":0.76},{"s":1,"f":1,"x":3,"y":0.72},{"s":1,"f":1,"x":3.5,"y":0.67},{"s":1,"f":1,"x":4,"y":0.63},{"s":1,"f":1,"x":4.5,"y":0.60},{"s":1,"f":1,"x":5,"y":0.58},{"s":1,"f":1,"x":5.5,"y":0.56},{"s":1,"f":1,"x":6,"y":0.56},{"s":1,"f":1,"x":6.5,"y":0.56},{"s":1,"f":1,"x":7,"y":0.58},{"s":1,"f":1,"x":7.5,"y":0.60},{"s":1,"f":1,"x":8,"y":0.63},{"s":1,"f":1,"x":8.5,"y":0.64},{"s":1,"f":1,"x":9,"y":0.65},{"s":1,"f":1,"x":9.5,"y":0.66},{"s":1,"f":1,"x":10,"y":0.70},{"s":1,"f":1,"x":10.5,"y":0.73},{"s":1,"f":1,"x":11,"y":0.75},{"s":1,"f":1,"x":11.5,"y":0.70},{"s":1,"f":1,"x":12,"y":0.66},
  {"s":1,"f":0,"x":0,"y":0.53},{"s":1,"f":0,"x":0.5,"y":0.52},{"s":1,"f":0,"x":1,"y":0.51},{"s":1,"f":0,"x":1.5,"y":0.52},{"s":1,"f":0,"x":2,"y":0.52},{"s":1,"f":0,"x":2.5,"y":0.52},{"s":1,"f":0,"x":3,"y":0.53},{"s":1,"f":0,"x":3.5,"y":0.54},{"s":1,"f":0,"x":4,"y":0.55},{"s":1,"f":0,"x":4.5,"y":0.55},{"s":1,"f":0,"x":5,"y":0.56},{"s":1,"f":0,"x":5.5,"y":0.56},{"s":1,"f":0,"x":6,"y":0.57},{"s":1,"f":0,"x":6.5,"y":0.58},{"s":1,"f":0,"x":7,"y":0.60},{"s":1,"f":0,"x":7.5,"y":0.65},{"s":1,"f":0,"x":8,"y":0.71},{"s":1,"f":0,"x":8.5,"y":0.71},{"s":1,"f":0,"x":9,"y":0.71},{"s":1,"f":0,"x":9.5,"y":0.71},{"s":1,"f":0,"x":10,"y":0.69},{"s":1,"f":0,"x":10.5,"y":0.66},{"s":1,"f":0,"x":11,"y":0.64},{"s":1,"f":0,"x":11.5,"y":0.60},{"s":1,"f":0,"x":12,"y":0.55},
  {"s":3,"f":1,"x":0,"y":0.73},{"s":3,"f":1,"x":0.5,"y":0.71},{"s":3,"f":1,"x":1,"y":0.69},{"s":3,"f":1,"x":1.5,"y":0.67},{"s":3,"f":1,"x":2,"y":0.65},{"s":3,"f":1,"x":2.5,"y":0.63},{"s":3,"f":1,"x":3,"y":0.61},{"s":3,"f":1,"x":3.5,"y":0.60},{"s":3,"f":1,"x":4,"y":0.60},{"s":3,"f":1,"x":4.5,"y":0.61},{"s":3,"f":1,"x":5,"y":0.62},{"s":3,"f":1,"x":5.5,"y":0.63},{"s":3,"f":1,"x":6,"y":0.59},{"s":3,"f":1,"x":6.5,"y":0.56},{"s":3,"f":1,"x":7,"y":0.55},{"s":3,"f":1,"x":7.5,"y":0.55},{"s":3,"f":1,"x":8,"y":0.54},{"s":3,"f":1,"x":8.5,"y":0.52},{"s":3,"f":1,"x":9,"y":0.53},{"s":3,"f":1,"x":9.5,"y":0.55},{"s":3,"f":1,"x":10,"y":0.57},{"s":3,"f":1,"x":10.5,"y":0.56},{"s":3,"f":1,"x":11,"y":0.55},{"s":3,"f":1,"x":11.5,"y":0.54},{"s":3,"f":1,"x":12,"y":0.53},
  {"s":3,"f":0,"x":0,"y":0.45},{"s":3,"f":0,"x":0.5,"y":0.44},{"s":3,"f":0,"x":1,"y":0.43},{"s":3,"f":0,"x":1.5,"y":0.50},{"s":3,"f":0,"x":2,"y":0.55},{"s":3,"f":0,"x":2.5,"y":0.57},{"s":3,"f":0,"x":3,"y":0.58},{"s":3,"f":0,"x":3.5,"y":0.59},{"s":3,"f":0,"x":4,"y":0.60},{"s":3,"f":0,"x":4.5,"y":0.59},{"s":3,"f":0,"x":5,"y":0.58},{"s":3,"f":0,"x":5.5,"y":0.57},{"s":3,"f":0,"x":6,"y":0.55},{"s":3,"f":0,"x":6.5,"y":0.53},{"s":3,"f":0,"x":7,"y":0.51},{"s":3,"f":0,"x":7.5,"y":0.50},{"s":3,"f":0,"x":8,"y":0.50},{"s":3,"f":0,"x":8.5,"y":0.49},{"s":3,"f":0,"x":9,"y":0.48},{"s":3,"f":0,"x":9.5,"y":0.47},{"s":3,"f":0,"x":10,"y":0.46},{"s":3,"f":0,"x":10.5,"y":0.45},{"s":3,"f":0,"x":11,"y":0.45},{"s":3,"f":0,"x":11.5,"y":0.54},{"s":3,"f":0,"x":12,"y":0.52},
  {"s":5,"f":1,"x":0,"y":0.48},{"s":5,"f":1,"x":0.5,"y":0.47},{"s":5,"f":1,"x":1,"y":0.45},{"s":5,"f":1,"x":1.5,"y":0.44},{"s":5,"f":1,"x":2,"y":0.43},{"s":5,"f":1,"x":2.5,"y":0.43},{"s":5,"f":1,"x":3,"y":0.44},{"s":5,"f":1,"x":3.5,"y":0.45},{"s":5,"f":1,"x":4,"y":0.47},{"s":5,"f":1,"x":4.5,"y":0.50},{"s":5,"f":1,"x":5,"y":0.52},{"s":5,"f":1,"x":5.5,"y":0.53},{"s":5,"f":1,"x":6,"y":0.52},{"s":5,"f":1,"x":6.5,"y":0.50},{"s":5,"f":1,"x":7,"y":0.49},{"s":5,"f":1,"x":7.5,"y":0.50},{"s":5,"f":1,"x":8,"y":0.50},{"s":5,"f":1,"x":8.5,"y":0.51},{"s":5,"f":1,"x":9,"y":0.52},{"s":5,"f":1,"x":9.5,"y":0.58},{"s":5,"f":1,"x":10,"y":0.63},{"s":5,"f":1,"x":10.5,"y":0.64},{"s":5,"f":1,"x":11,"y":0.63},{"s":5,"f":1,"x":11.5,"y":0.60},{"s":5,"f":1,"x":12,"y":0.57},
  {"s":5,"f":0,"x":0,"y":0.62},{"s":5,"f":0,"x":0.5,"y":0.63},{"s":5,"f":0,"x":1,"y":0.65},{"s":5,"f":0,"x":1.5,"y":0.67},{"s":5,"f":0,"x":2,"y":0.68},{"s":5,"f":0,"x":2.5,"y":0.69},{"s":5,"f":0,"x":3,"y":0.68},{"s":5,"f":0,"x":3.5,"y":0.66},{"s":5,"f":0,"x":4,"y":0.64},{"s":5,"f":0,"x":4.5,"y":0.63},{"s":5,"f":0,"x":5,"y":0.62},{"s":5,"f":0,"x":5.5,"y":0.63},{"s":5,"f":0,"x":6,"y":0.64},{"s":5,"f":0,"x":6.5,"y":0.62},{"s":5,"f":0,"x":7,"y":0.61},{"s":5,"f":0,"x":7.5,"y":0.61},{"s":5,"f":0,"x":8,"y":0.62},{"s":5,"f":0,"x":8.5,"y":0.63},{"s":5,"f":0,"x":9,"y":0.64},{"s":5,"f":0,"x":9.5,"y":0.66},{"s":5,"f":0,"x":10,"y":0.68},{"s":5,"f":0,"x":10.5,"y":0.67},{"s":5,"f":0,"x":11,"y":0.64},{"s":5,"f":0,"x":11.5,"y":0.62},{"s":5,"f":0,"x":12,"y":0.59},
  {"s":4,"f":1,"x":0,"y":0.56},{"s":4,"f":1,"x":0.5,"y":0.56},{"s":4,"f":1,"x":1,"y":0.55},{"s":4,"f":1,"x":1.5,"y":0.54},{"s":4,"f":1,"x":2,"y":0.52},{"s":4,"f":1,"x":2.5,"y":0.52},{"s":4,"f":1,"x":3,"y":0.52},{"s":4,"f":1,"x":3.5,"y":0.53},{"s":4,"f":1,"x":4,"y":0.54},{"s":4,"f":1,"x":4.5,"y":0.56},{"s":4,"f":1,"x":5,"y":0.57},{"s":4,"f":1,"x":5.5,"y":0.58},{"s":4,"f":1,"x":6,"y":0.55},{"s":4,"f":1,"x":6.5,"y":0.53},{"s":4,"f":1,"x":7,"y":0.52},{"s":4,"f":1,"x":7.5,"y":0.51},{"s":4,"f":1,"x":8,"y":0.51},{"s":4,"f":1,"x":8.5,"y":0.51},{"s":4,"f":1,"x":9,"y":0.52},{"s":4,"f":1,"x":9.5,"y":0.52},{"s":4,"f":1,"x":10,"y":0.51},{"s":4,"f":1,"x":10.5,"y":0.50},{"s":4,"f":1,"x":11,"y":0.50},{"s":4,"f":1,"x":11.5,"y":0.50},{"s":4,"f":1,"x":12,"y":0.50},
  {"s":4,"f":0,"x":0,"y":0.55},{"s":4,"f":0,"x":0.5,"y":0.55},{"s":4,"f":0,"x":1,"y":0.56},{"s":4,"f":0,"x":1.5,"y":0.57},{"s":4,"f":0,"x":2,"y":0.57},{"s":4,"f":0,"x":2.5,"y":0.58},{"s":4,"f":0,"x":3,"y":0.58},{"s":4,"f":0,"x":3.5,"y":0.59},{"s":4,"f":0,"x":4,"y":0.59},{"s":4,"f":0,"x":4.5,"y":0.59},{"s":4,"f":0,"x":5,"y":0.59},{"s":4,"f":0,"x":5.5,"y":0.58},{"s":4,"f":0,"x":6,"y":0.57},{"s":4,"f":0,"x":6.5,"y":0.57},{"s":4,"f":0,"x":7,"y":0.58},{"s":4,"f":0,"x":7.5,"y":0.59},{"s":4,"f":0,"x":8,"y":0.60},{"s":4,"f":0,"x":8.5,"y":0.61},{"s":4,"f":0,"x":9,"y":0.62},{"s":4,"f":0,"x":9.5,"y":0.62},{"s":4,"f":0,"x":10,"y":0.62},{"s":4,"f":0,"x":10.5,"y":0.62},{"s":4,"f":0,"x":11,"y":0.61},{"s":4,"f":0,"x":11.5,"y":0.63},{"s":4,"f":0,"x":12,"y":0.67}
 ]
},
"hconcat": [
 {"vconcat": [
  {"title": "Basilar artery (asymptomatic)", "width": 308, "height": 162, "data": {"name": "ba"},
   "encoding": {
    "x": {"field": "x", "type": "quantitative", "scale": {"domain": [0, 39.3], "nice": false, "zero": false}, "axis": {"title": "Distance (mm)", "values": [0,1,2,3,4,5,6,7,8,9,10,11,12,13,14,15,16,17,18,19,20,21,22,23,24,25,26,27,28,29,30,31,32,33,34,35,36,37,38,39], "labelExpr": "datum.value % 5 == 0 ? format(datum.value, '.1f') : ''"}},
    "y": {"field": "y", "type": "quantitative", "scale": {"domain": [0, 1.2], "nice": false}, "axis": {"title": "MVWT (mm)", "values": [0, 0.2, 0.4, 0.6, 0.8, 1, 1.2], "format": ".1f"}},
    "color": {"field": "s", "type": "nominal", "scale": {"domain": [1,2,3,4,5], "range": ["#FF0000","#00B050","#000000","#FFC000","#0070C0"]}, "legend": {"title": null, "labelExpr": "'spec. ' + datum.label"}}
   },
   "layer": [
    {"mark": {"type": "line", "strokeWidth": 2}, "encoding": {"detail": {"field": "f"}}},
    {"transform": [{"filter": "datum.f == 0"}], "mark": {"type": "point", "filled": false, "size": 45, "strokeWidth": 1, "shape": "circle"}},
    {"transform": [{"filter": "datum.f == 1"}], "mark": {"type": "point", "filled": true, "size": 45, "opacity": 1, "shape": "circle"}}
   ]},
  {"title": "Posterior cerebral artery (asymptomatic)", "width": 308, "height": 162, "data": {"name": "pa"},
   "encoding": {
    "x": {"field": "x", "type": "quantitative", "scale": {"domain": [0, 8], "nice": false, "zero": false}, "axis": {"title": "Distance (mm)", "values": [0,0.5,1,1.5,2,2.5,3,3.5,4,4.5,5,5.5,6,6.5,7,7.5,8], "labelExpr": "datum.value % 1 == 0 ? format(datum.value, '.1f') : ''"}},
    "y": {"field": "y", "type": "quantitative", "scale": {"domain": [0, 1.2], "nice": false}, "axis": {"title": "MVWT (mm)", "values": [0, 0.2, 0.4, 0.6, 0.8, 1, 1.2], "format": ".1f"}},
    "color": {"field": "s", "type": "nominal", "scale": {"domain": [1,2,3,4,5], "range": ["#FF0000","#00B050","#000000","#FFC000","#0070C0"]}, "legend": {"title": null, "labelExpr": "'spec. ' + datum.label"}}
   },
   "layer": [
    {"mark": {"type": "line", "strokeWidth": 2}, "encoding": {"detail": {"field": "f"}}},
    {"transform": [{"filter": "datum.f == 0"}], "mark": {"type": "point", "filled": false, "size": 50, "strokeWidth": 1, "shape": "circle"}},
    {"transform": [{"filter": "datum.f == 1"}], "mark": {"type": "point", "filled": true, "size": 50, "opacity": 1, "shape": "circle"}}
   ]},
  {"title": "Vertebral artery (asymptomatic)", "width": 308, "height": 162, "data": {"name": "va"},
   "encoding": {
    "x": {"field": "x", "type": "quantitative", "scale": {"domain": [0, 12], "nice": false, "zero": false}, "axis": {"title": "Distance (mm)", "values": [0,0.5,1,1.5,2,2.5,3,3.5,4,4.5,5,5.5,6,6.5,7,7.5,8,8.5,9,9.5,10,10.5,11,11.5,12], "labelExpr": "datum.value % 2 == 0 ? format(datum.value, '.1f') : ''"}},
    "y": {"field": "y", "type": "quantitative", "scale": {"domain": [0, 1.2], "nice": false}, "axis": {"title": "MVWT (mm)", "values": [0, 0.2, 0.4, 0.6, 0.8, 1, 1.2], "format": ".1f"}},
    "color": {"field": "s", "type": "nominal", "scale": {"domain": [1,2,3,4,5], "range": ["#FF0000","#00B050","#000000","#FFC000","#0070C0"]}, "legend": {"title": null, "labelExpr": "'spec. ' + datum.label"}},
    "shape": {"condition": {"test": "datum.s == 2", "value": "triangle-up"}, "value": "circle"}
   },
   "layer": [
    {"mark": {"type": "line", "strokeWidth": 2}, "encoding": {"detail": {"field": "f"}, "shape": null}},
    {"transform": [{"filter": "datum.f == 0"}], "mark": {"type": "point", "filled": false, "size": 50, "strokeWidth": 1}},
    {"transform": [{"filter": "datum.f == 1"}], "mark": {"type": "point", "filled": true, "size": 50, "opacity": 1}}
   ]}
 ], "spacing": 18, "resolve": {"scale": {"color": "shared"}, "legend": {"color": "shared"}}},
 {"vconcat": [
  {"title": "Basilar artery (symptomatic)", "width": 303, "height": 162, "data": {"name": "bs"},
   "encoding": {
    "x": {"field": "x", "type": "quantitative", "scale": {"domain": [0, 29.8], "nice": false, "zero": false}, "axis": {"title": "Distance (mm)", "values": [0,1,2,3,4,5,6,7,8,9,10,11,12,13,14,15,16,17,18,19,20,21,22,23,24,25,26,27,28,29], "labelExpr": "datum.value % 5 == 0 ? format(datum.value, '.1f') : ''"}},
    "y": {"field": "y", "type": "quantitative", "scale": {"domain": [0, 1.2], "nice": false}, "axis": {"title": "MVWT (mm)", "values": [0, 0.2, 0.4, 0.6, 0.8, 1, 1.2], "format": ".1f"}},
    "color": {"field": "s", "type": "nominal", "scale": {"domain": [1,2,3,4,5], "range": ["#7030A0","#00B0F0","#C00000","#92D050","#F79646"]}, "legend": {"title": null, "labelExpr": "'spec. ' + datum.label"}}
   },
   "layer": [
    {"mark": {"type": "line", "strokeWidth": 2}, "encoding": {"detail": {"field": "f"}}},
    {"transform": [{"filter": "datum.f == 0"}], "mark": {"type": "point", "filled": false, "size": 45, "strokeWidth": 1, "shape": "triangle-up"}},
    {"transform": [{"filter": "datum.f == 1"}], "mark": {"type": "point", "filled": true, "size": 45, "opacity": 1, "shape": "triangle-up"}}
   ]},
  {"title": "Posterior cerebral artery (symptomatic)", "width": 303, "height": 162, "data": {"name": "ps"},
   "encoding": {
    "x": {"field": "x", "type": "quantitative", "scale": {"domain": [0, 8], "nice": false, "zero": false}, "axis": {"title": "Distance (mm)", "values": [0,0.5,1,1.5,2,2.5,3,3.5,4,4.5,5,5.5,6,6.5,7,7.5,8], "labelExpr": "datum.value % 1 == 0 ? format(datum.value, '.1f') : ''"}},
    "y": {"field": "y", "type": "quantitative", "scale": {"domain": [0, 1.2], "nice": false}, "axis": {"title": "MVWT (mm)", "values": [0, 0.2, 0.4, 0.6, 0.8, 1, 1.2], "format": ".1f"}},
    "color": {"field": "s", "type": "nominal", "scale": {"domain": [1,2,3,4,5], "range": ["#7030A0","#00B0F0","#C00000","#92D050","#F79646"]}, "legend": {"title": null, "labelExpr": "'spec. ' + datum.label"}}
   },
   "layer": [
    {"mark": {"type": "line", "strokeWidth": 2}, "encoding": {"detail": {"field": "f"}}},
    {"transform": [{"filter": "datum.f == 0"}], "mark": {"type": "point", "filled": false, "size": 55, "strokeWidth": 1, "shape": "triangle-up"}},
    {"transform": [{"filter": "datum.f == 1"}], "mark": {"type": "point", "filled": true, "size": 55, "opacity": 1, "shape": "triangle-up"}}
   ]},
  {"title": "Vertebral artery (symptomatic)", "width": 303, "height": 162, "data": {"name": "vs"},
   "encoding": {
    "x": {"field": "x", "type": "quantitative", "scale": {"domain": [0, 12], "nice": false, "zero": false}, "axis": {"title": "Distance (mm)", "values": [0,0.5,1,1.5,2,2.5,3,3.5,4,4.5,5,5.5,6,6.5,7,7.5,8,8.5,9,9.5,10,10.5,11,11.5,12], "labelExpr": "datum.value % 2 == 0 ? format(datum.value, '.1f') : ''"}},
    "y": {"field": "y", "type": "quantitative", "scale": {"domain": [0, 1.2], "nice": false}, "axis": {"title": "MVWT (mm)", "values": [0, 0.2, 0.4, 0.6, 0.8, 1, 1.2], "format": ".1f"}},
    "color": {"field": "s", "type": "nominal", "scale": {"domain": [1,2,3,4,5], "range": ["#7030A0","#00B0F0","#C00000","#92D050","#F79646"]}, "legend": {"title": null, "labelExpr": "'spec. ' + datum.label"}}
   },
   "layer": [
    {"mark": {"type": "line", "strokeWidth": 2}, "encoding": {"detail": {"field": "f"}}},
    {"transform": [{"filter": "datum.f == 0"}], "mark": {"type": "point", "filled": false, "size": 55, "strokeWidth": 1, "shape": "triangle-up"}},
    {"transform": [{"filter": "datum.f == 1"}], "mark": {"type": "point", "filled": true, "size": 55, "opacity": 1, "shape": "triangle-up"}}
   ]}
 ], "spacing": 18, "resolve": {"scale": {"color": "shared"}, "legend": {"color": "shared"}}}
],
"spacing": 21,
"resolve": {"scale": {"color": "independent"}, "legend": {"color": "independent"}}
}
